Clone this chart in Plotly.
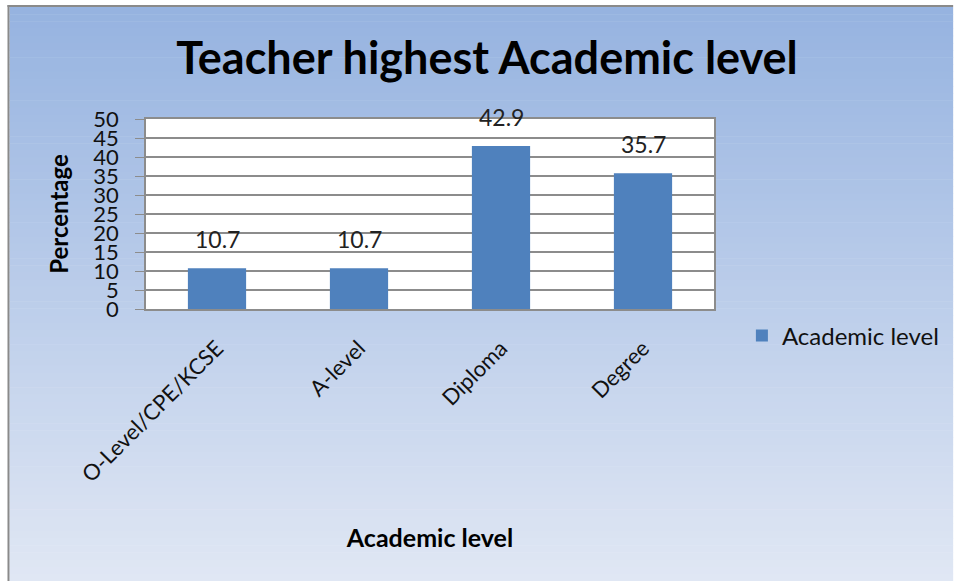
import plotly.graph_objects as go

# chart data
categories = ["O-Level/CPE/KCSE", "A-level", "Diploma", "Degree"]
percentages = [10.7, 10.7, 42.9, 35.7]
series_name = "Academic level"
y_ticks = list(range(0, 55, 5))

W_FIG, H_FIG = 956, 581
L, R, T, B = 146, 240, 119, 272  # margins in px
PW = W_FIG - L - R
PH = H_FIG - T - B
FONT = "Lato, 'Open Sans', sans-serif"
GRID = "#8c8c8c"


def px_x(px):
    return (px - L) / PW


def px_y(py):
    return (H_FIG - B - py) / PH


def lerp(c0, c1, f):
    return "rgb(%d,%d,%d)" % tuple(round(a + (b - a) * f) for a, b in zip(c0, c1))


shapes = []
# white surround
shapes.append(dict(type="rect", xref="paper", yref="paper", layer="below",
                   x0=px_x(0), x1=px_x(W_FIG), y0=px_y(H_FIG), y1=px_y(0),
                   fillcolor="white", line_width=0))
# vertical gradient background
top_c, bot_c = (150, 179, 224), (224, 231, 244)
n = 80
y_start, y_end = 7, H_FIG
step = (y_end - y_start) / n
for i in range(n):
    shapes.append(dict(type="rect", xref="paper", yref="paper", layer="below",
                       x0=px_x(9), x1=px_x(W_FIG),
                       y0=px_y(y_start + (i + 1) * step + 0.5), y1=px_y(y_start + i * step),
                       fillcolor=lerp(top_c, bot_c, i / (n - 1)), line_width=0))
# grey frame on top and left edges
shapes.append(dict(type="rect", xref="paper", yref="paper", layer="below",
                   x0=px_x(7), x1=px_x(W_FIG), y0=px_y(7), y1=px_y(5),
                   fillcolor="#8a8a8a", line_width=0))
shapes.append(dict(type="rect", xref="paper", yref="paper", layer="below",
                   x0=px_x(7), x1=px_x(9), y0=px_y(H_FIG), y1=px_y(5),
                   fillcolor="#8a8a8a", line_width=0))
# white plot area
shapes.append(dict(type="rect", xref="paper", yref="paper", layer="below",
                   x0=0, x1=1, y0=0, y1=1, fillcolor="white", line_width=0))

fig = go.Figure()
fig.add_trace(go.Bar(
    x=categories, y=percentages, name=series_name,
    marker=dict(color="#4f81bd", line=dict(width=0)),
    showlegend=True, hoverinfo="x+y",
))

# value labels above bars
annotations = []
for cat, val in zip(categories, percentages):
    annotations.append(dict(x=cat, y=val, xref="x", yref="y", text=f"{val}",
                            showarrow=False, yanchor="bottom", yshift=13,
                            font=dict(family=FONT, size=23, color="#222")))

fig.update_layout(
    width=W_FIG, height=H_FIG,
    margin=dict(l=L, r=R, t=T, b=B),
    paper_bgcolor="rgba(0,0,0,0)", plot_bgcolor="rgba(0,0,0,0)",
    shapes=shapes, annotations=annotations,
    bargap=0.59,
    font=dict(family=FONT, size=22, color="#111"),
    title=dict(text="<b>Teacher highest Academic level</b>",
               x=487 / W_FIG, xanchor="center", xref="container",
               y=1 - 58 / H_FIG, yanchor="middle", yref="container",
               font=dict(family=FONT, size=45, color="black")),
    legend=dict(x=px_x(744), y=px_y(336), xanchor="left", yanchor="middle",
                bgcolor="rgba(0,0,0,0)", font=dict(family=FONT, size=24, color="#111"),
                itemwidth=30),
)

fig.update_yaxes(
    range=[0, 50], tickvals=y_ticks, ticks="outside", ticklen=9, tickcolor=GRID,
    showgrid=True, gridcolor=GRID, gridwidth=1.5,
    showline=True, linecolor=GRID, linewidth=1.5, mirror=True,
    ticklabelstandoff=12, zeroline=False,
    tickfont=dict(family=FONT, size=22, color="#111"),
    title=dict(text="<b>Percentage</b>", standoff=18,
               font=dict(family=FONT, size=24, color="black")),
)
fig.update_xaxes(
    tickangle=-45, ticks="", showline=True, linecolor=GRID, linewidth=1.5, mirror=True,
    ticklabelstandoff=16,
    tickfont=dict(family=FONT, size=22, color="#111"),
    title=dict(text="<b>Academic level</b>", standoff=44,
               font=dict(family=FONT, size=25, color="black")),
)

fig.write_html(
    "out.html",
    config={"displayModeBar": False},
    post_script="document.body.style.margin='0';"
                "document.body.style.overflow='hidden';"
                "document.documentElement.style.overflow='hidden';",
)
